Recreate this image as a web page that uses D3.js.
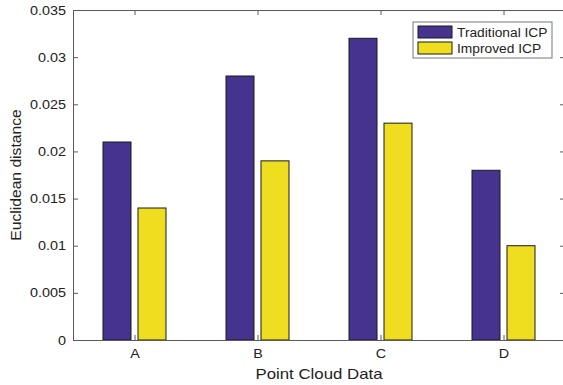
<!DOCTYPE html>
<html>
<head>
<meta charset="utf-8">
<script src="https://cdn.jsdelivr.net/npm/d3@7"></script>
<style>
  body { margin: 0; background: #fff; }
  text { font-family: "Liberation Sans", Arial, sans-serif; fill: #222; }
</style>
</head>
<body>
<div id="chart"></div>
<script>
// data
const categories = ["A", "B", "C", "D"];
const seriesNames = ["Traditional ICP", "Improved ICP"];
const traditional = [0.021, 0.028, 0.032, 0.018];
const improved = [0.014, 0.019, 0.023, 0.010];
const yTicks = [0, 0.005, 0.01, 0.015, 0.02, 0.025, 0.03, 0.035];

const svgWidth = 563;
const svgHeight = 385;
const margin = { top: 10, right: -2, bottom: 45, left: 73 };
const chartWidth = svgWidth - margin.left - margin.right;
const chartHeight = svgHeight - margin.top - margin.bottom;

const colors = ["#46338f", "#efdd1f"];
const axisColor = "#5a5a5a";

// the reference text looks a bit wide, stretch it horizontally
function stretch(sel, f) {
    sel.each(function() {
        const w = this.getComputedTextLength();
        if (w > 0) {
            d3.select(this)
                .attr("textLength", w * f)
                .attr("lengthAdjust", "spacingAndGlyphs");
        }
    });
}

const svg = d3.select("#chart")
    .append("svg")
    .attr("width", svgWidth)
    .attr("height", svgHeight);

const chartGroup = svg.append("g")
    .attr("transform", `translate(${margin.left}, ${margin.top})`);

// x positions: categories at 1..4, limits 0.5..4.5
const xScale = d3.scaleLinear().domain([0.5, 4.5]).range([0, chartWidth]);
const yScale = d3.scaleLinear().domain([0, 0.035]).range([chartHeight, 0]);

const barW = 28;
const offset = 17.5;

const rows = categories.map((c, i) => ({ cat: c, i: i + 1, vals: [traditional[i], improved[i]] }));

// bars
const groups = chartGroup.selectAll(".grp")
    .data(rows)
    .enter()
    .append("g");

groups.selectAll("rect")
    .data(d => d.vals.map((v, k) => ({ v: v, k: k, i: d.i })))
    .enter()
    .append("rect")
    .attr("x", d => xScale(d.i) + (d.k === 0 ? -offset : offset) - barW / 2)
    .attr("y", d => yScale(d.v))
    .attr("width", barW)
    .attr("height", d => chartHeight - yScale(d.v))
    .attr("fill", d => colors[d.k])
    .attr("stroke", "#1a1a1a")
    .attr("stroke-width", 1);

// axes (ticks point inward, like matlab)
const leftAxis = d3.axisLeft(yScale).tickValues(yTicks)
    .tickFormat(d => d === 0 ? "0" : String(+d.toFixed(3)))
    .tickSizeInner(-5).tickSizeOuter(0).tickPadding(7);
const rightAxis = d3.axisRight(yScale).tickValues(yTicks)
    .tickFormat("").tickSizeInner(-5).tickSizeOuter(0);
const bottomAxis = d3.axisBottom(xScale).tickValues([1, 2, 3, 4])
    .tickFormat(d => categories[d - 1])
    .tickSizeInner(-5).tickSizeOuter(0).tickPadding(9);
const topAxis = d3.axisTop(xScale).tickValues([1, 2, 3, 4])
    .tickFormat("").tickSizeInner(-5).tickSizeOuter(0);

const yAxisG = chartGroup.append("g").call(leftAxis);
const y2AxisG = chartGroup.append("g").attr("transform", `translate(${chartWidth}, 0)`).call(rightAxis);
const xAxisG = chartGroup.append("g").attr("transform", `translate(0, ${chartHeight})`).call(bottomAxis);
const x2AxisG = chartGroup.append("g").call(topAxis);

[yAxisG, y2AxisG, xAxisG, x2AxisG].forEach(g => {
    g.selectAll("path, line").attr("stroke", axisColor);
    g.selectAll("text").style("font-size", "12.5px").attr("fill", "#222");
});
stretch(yAxisG.selectAll("text"), 1.15);
stretch(xAxisG.selectAll("text"), 1.15);

// axis labels
const xLabel = svg.append("text")
    .attr("x", margin.left + xScale(2.5))
    .attr("y", 379)
    .attr("text-anchor", "middle")
    .style("font-size", "15px")
    .text("Point Cloud Data");
stretch(xLabel, 1.12);

const yLabel = svg.append("text")
    .attr("transform", `translate(21, ${margin.top + chartHeight / 2}) rotate(-90)`)
    .attr("text-anchor", "middle")
    .style("font-size", "14.5px")
    .text("Euclidean distance");
stretch(yLabel, 1.08);

// legend
const legend = svg.append("g").attr("transform", "translate(413, 22)");
legend.append("rect")
    .attr("width", 139).attr("height", 36)
    .attr("fill", "#fff").attr("stroke", "#777");
seriesNames.forEach((name, k) => {
    legend.append("rect")
        .attr("x", 5).attr("y", 4 + k * 16)
        .attr("width", 34).attr("height", 12)
        .attr("fill", colors[k]).attr("stroke", "#1a1a1a");
    const t = legend.append("text")
        .attr("x", 44).attr("y", 15 + k * 16)
        .style("font-size", "12.5px")
        .text(name);
    stretch(t, 1.1);
});
</script>
</body>
</html>
